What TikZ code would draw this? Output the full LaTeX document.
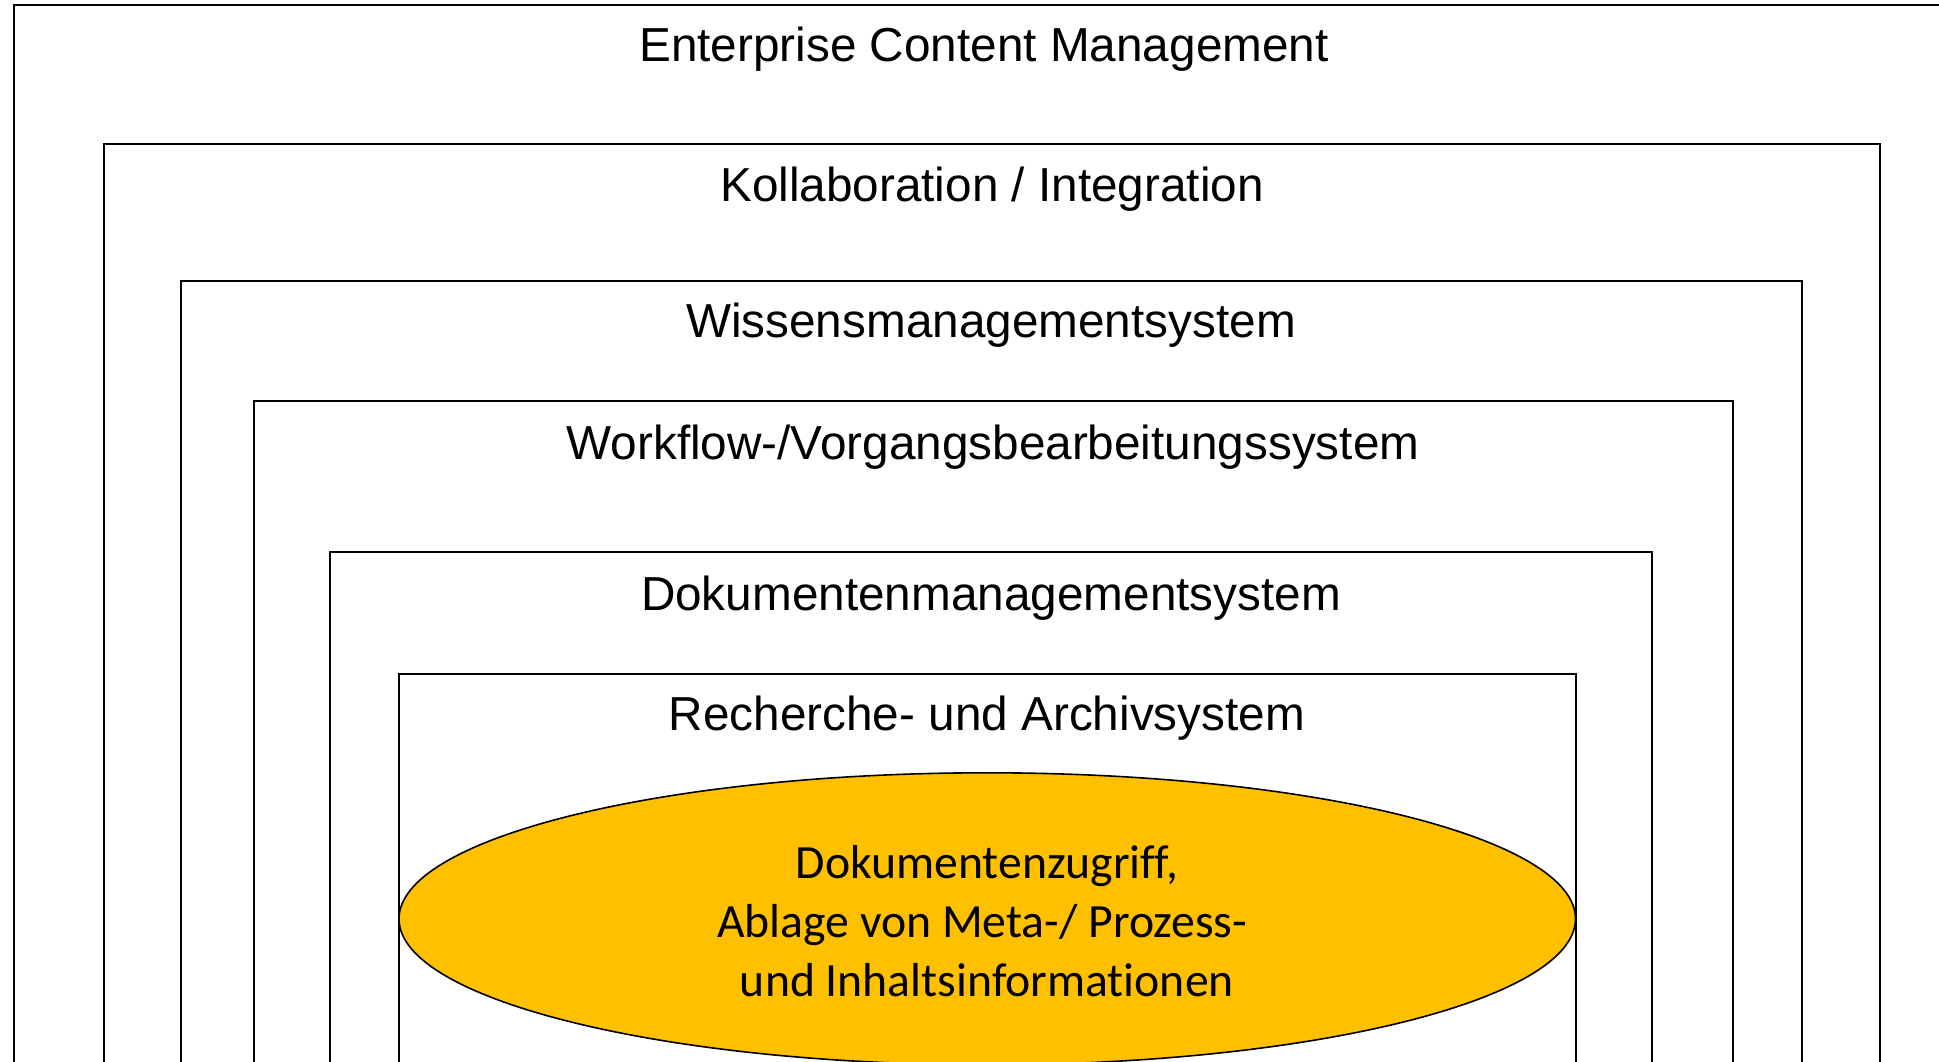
\documentclass[tikz,border=0pt]{standalone}
\usepackage{fontspec}
\setmainfont{Liberation Sans}
\newfontfamily\calib[Ligatures={NoCommon}]{Carlito}
\definecolor{gold}{HTML}{FFC000}
\begin{document}
\begin{tikzpicture}[x=1pt,y=-1pt,
  layer/.style={draw=black,line width=2pt},
  ltext/.style={anchor=base,inner sep=0pt,font=\fontsize{47.7}{56}\selectfont},
  ctext/.style={anchor=base,inner sep=0pt,font=\calib\fontsize{47.7}{60}\selectfont}]
\useasboundingbox (0,0) rectangle (1939,1061);
\clip (0,0) rectangle (1939,1061);
\fill[white] (0,0) rectangle (1939,1061);
% nested layers, open to the bottom
\draw[layer] (13.5,1100) -- (13.5,5) -- (1960,5);
\draw[layer] (104,1100) -- (104,143.5) -- (1880,143.5) -- (1880,1100);
\draw[layer] (180.5,1100) -- (180.5,281) -- (1802,281) -- (1802,1100);
\draw[layer] (253.5,1100) -- (253.5,400.5) -- (1732.5,400.5) -- (1732.5,1100);
\draw[layer] (330,1100) -- (330,551.5) -- (1652,551.5) -- (1652,1100);
\draw[layer] (399,1100) -- (399,674) -- (1575.5,674) -- (1575.5,1100);
% core ellipse
\draw[fill=gold,line width=1.6pt] (987.25,918.8) ellipse [x radius=588.25, y radius=146];
% labels
\node[ltext] (ecm) at (984,61.5) {Enterprise Content Management};
\node[ltext] (koll) at (992,201) {Kollaboration / Integration};
\node[ltext] (wms) at (991,337.5) {Wissensmanagementsystem};
\node[ltext] (wf) at (993,459) {Workflow-/Vorgangsbearbeitungssystem};
\node[ltext] (dms) at (991,610) {Dokumentenmanagementsystem};
\node[ltext] (ras) at (987,730) {Recherche- und Archivsystem};
\node[ctext] (c1) at (987,878.5) {Dokumentenzugriff,};
\node[ctext] (c2) at (982,937) {Ablage von Meta-/ Prozess-};
\node[ctext] (c3) at (987,996) {und Inhaltsinformationen};
\end{tikzpicture}
\end{document}
